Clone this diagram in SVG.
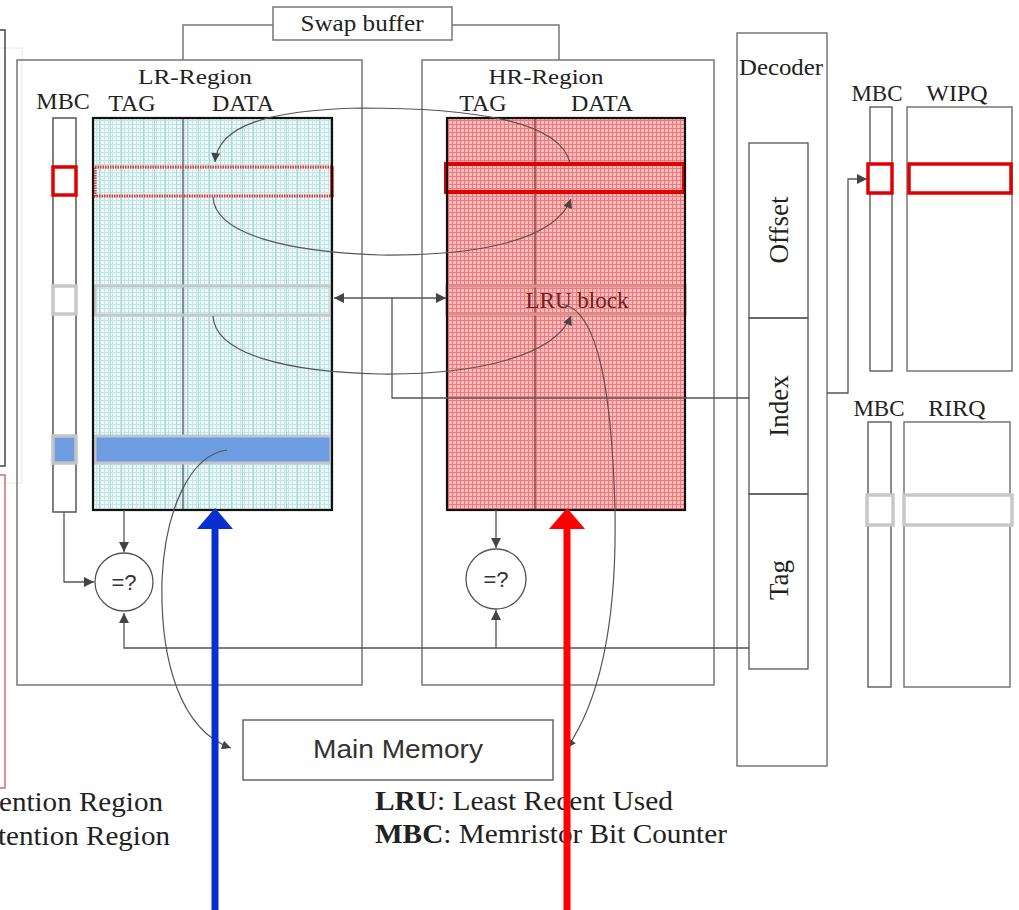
<svg xmlns="http://www.w3.org/2000/svg" width="1019" height="910" viewBox="0 0 1019 910">
<defs>
<pattern id="pLR" width="4" height="4" patternUnits="userSpaceOnUse">
<rect width="4" height="4" fill="#ecf8f8"/>
<path d="M0 0.5H4M0.5 0V4" stroke="#c3e5e5" stroke-width="1"/>
</pattern>
<pattern id="pLRv" width="11" height="4" patternUnits="userSpaceOnUse">
<path d="M0.5 0V4" stroke="#a9d6d6" stroke-width="1"/>
</pattern>
<pattern id="pHR" width="4" height="4" patternUnits="userSpaceOnUse">
<rect width="4" height="4" fill="#fabcbc"/>
<path d="M0 0.5H4M0.5 0V4" stroke="#f07878" stroke-width="1"/>
</pattern>
<marker id="ah" viewBox="0 0 10 10" refX="10" refY="5" markerWidth="12" markerHeight="10" markerUnits="userSpaceOnUse" orient="auto-start-reverse">
<path d="M0 0L10 5L0 10z" fill="#444"/>
</marker>
<marker id="ahs" viewBox="0 0 10 10" refX="10" refY="5" markerWidth="11" markerHeight="9" markerUnits="userSpaceOnUse" orient="auto">
<path d="M0 0L10 5L0 10z" fill="#444"/>
</marker>
</defs>
<style>
.t{font-family:"Liberation Serif","Times New Roman",serif;fill:#222}
.s{font-family:"Liberation Sans",Arial,sans-serif;fill:#333}
.box{fill:none;stroke:#777;stroke-width:1.5}
.thin{fill:#fff;stroke:#555;stroke-width:1.5}
.c{fill:none;stroke:#555;stroke-width:1.3}
.cv{fill:none;stroke:#555;stroke-width:1.2}
</style>
<rect width="1019" height="910" fill="#fff"/>

<g id="left-edge">
<path d="M0 48H22V483H0" fill="none" stroke="#e2ebf2" stroke-width="1.2"/>
<path d="M0 30H5V466H0" fill="none" stroke="#444" stroke-width="1.5"/>
<path d="M0 475H5V788H0" fill="none" stroke="#e06a6a" stroke-width="1.5"/>
<text class="t" x="-1" y="811" font-size="27" textLength="164" lengthAdjust="spacingAndGlyphs">ention Region</text>
<text class="t" x="-2" y="845" font-size="27" textLength="172" lengthAdjust="spacingAndGlyphs">tention Region</text>
</g>

<g id="swap-buffer">
<rect x="273" y="7" width="179" height="33" class="box"/>
<text class="t" x="362" y="31" font-size="23" text-anchor="middle" textLength="123" lengthAdjust="spacingAndGlyphs">Swap buffer</text>
</g>

<g id="lr-region">
<rect x="17" y="60" width="345" height="625" class="box"/>
<text class="t" x="195" y="84" font-size="21" text-anchor="middle" textLength="114" lengthAdjust="spacingAndGlyphs">LR-Region</text>
<text class="t" x="63" y="109" font-size="24" text-anchor="middle">MBC</text>
<text class="t" x="132" y="111" font-size="24" text-anchor="middle">TAG</text>
<text class="t" x="243" y="111" font-size="24" text-anchor="middle">DATA</text>
<rect x="53" y="118" width="23" height="394" class="thin"/>
<rect x="93" y="118" width="239" height="392" fill="url(#pLR)"/>
<rect x="93" y="118" width="239" height="392" fill="url(#pLRv)"/>
<line x1="183" y1="118" x2="183" y2="510" stroke="#667" stroke-width="1.5"/>
<rect x="95" y="167" width="237" height="29" fill="none" stroke="#e43a3a" stroke-width="3" stroke-dasharray="1.5 1"/>
<line x1="332" y1="166" x2="332" y2="197" stroke="#e00" stroke-width="3"/>
<rect x="53" y="167" width="23" height="28" fill="#fff" stroke="#e00000" stroke-width="3.5"/>
<rect x="95" y="286" width="236" height="29" fill="none" stroke="#c4c8c8" stroke-width="3"/>
<rect x="53" y="286" width="23" height="28" fill="#fff" stroke="#c8c8c8" stroke-width="3.5"/>
<rect x="95" y="436" width="236" height="27" fill="#6d9de0" stroke="#c0c6cc" stroke-width="3"/>
<rect x="53" y="436" width="23" height="27" fill="#6d9de0" stroke="#c4c4c4" stroke-width="3.5"/>
<rect x="93" y="118" width="239" height="392" fill="none" stroke="#111" stroke-width="2.2"/>
<circle cx="124" cy="582" r="29" fill="#fff" stroke="#555" stroke-width="1.3"/>
<text class="s" x="124" y="590" font-size="22" text-anchor="middle">=?</text>
</g>

<g id="hr-region">
<rect x="422" y="60" width="292" height="625" class="box"/>
<text class="t" x="546" y="84" font-size="21" text-anchor="middle" textLength="115" lengthAdjust="spacingAndGlyphs">HR-Region</text>
<text class="t" x="483" y="111" font-size="24" text-anchor="middle">TAG</text>
<text class="t" x="602" y="111" font-size="24" text-anchor="middle">DATA</text>
<rect x="447" y="118" width="238" height="392" fill="url(#pHR)"/>
<line x1="535" y1="118" x2="535" y2="510" stroke="#8a4848" stroke-width="1.5"/>
<rect x="447" y="286" width="238" height="28" fill="none" stroke="#d89090" stroke-width="3"/>
<text x="577" y="308" font-family="Liberation Serif,serif" font-size="23" fill="#6a2424" text-anchor="middle">LRU block</text>
<rect x="446" y="164" width="238" height="28" fill="none" stroke="#e00000" stroke-width="4"/>
<rect x="447" y="118" width="238" height="392" fill="none" stroke="#111" stroke-width="2.2"/>
<circle cx="496" cy="579" r="30" fill="#fff" stroke="#555" stroke-width="1.3"/>
<text class="s" x="496" y="587" font-size="22" text-anchor="middle">=?</text>
</g>

<g id="decoder">
<rect x="737" y="33" width="90" height="733" class="box"/>
<text class="t" x="781" y="75" font-size="23" text-anchor="middle" textLength="84" lengthAdjust="spacingAndGlyphs">Decoder</text>
<rect x="749" y="143" width="59" height="175" fill="none" stroke="#555" stroke-width="1.3"/>
<rect x="749" y="318" width="59" height="176" fill="none" stroke="#555" stroke-width="1.3"/>
<rect x="749" y="494" width="59" height="175" fill="none" stroke="#555" stroke-width="1.3"/>
<text class="t" x="0" y="0" font-size="27" text-anchor="middle" transform="translate(788 230) rotate(-90)">Offset</text>
<text class="t" x="0" y="0" font-size="27" text-anchor="middle" transform="translate(788 406) rotate(-90)">Index</text>
<text class="t" x="0" y="0" font-size="27" text-anchor="middle" transform="translate(788 580) rotate(-90)">Tag</text>
</g>

<g id="wipq">
<text class="t" x="877" y="101" font-size="23" text-anchor="middle">MBC</text>
<text class="t" x="957" y="101" font-size="24" text-anchor="middle">WIPQ</text>
<rect x="870" y="107" width="22" height="264" fill="none" stroke="#666" stroke-width="1.5"/>
<rect x="907" y="107" width="105" height="264" fill="none" stroke="#777" stroke-width="1.5"/>
<rect x="868" y="164" width="24" height="29" fill="#fff" stroke="#e00000" stroke-width="3.5"/>
<rect x="909" y="164" width="102" height="29" fill="#fff" stroke="#e00000" stroke-width="3.5"/>
</g>

<g id="rirq">
<text class="t" x="879" y="416" font-size="23" text-anchor="middle">MBC</text>
<text class="t" x="957" y="416" font-size="24" text-anchor="middle">RIRQ</text>
<rect x="868" y="422" width="23" height="265" fill="none" stroke="#666" stroke-width="1.5"/>
<rect x="904" y="422" width="106" height="265" fill="none" stroke="#777" stroke-width="1.5"/>
<rect x="867" y="495" width="26" height="30" fill="#fff" stroke="#c8c8c8" stroke-width="3.5"/>
<rect x="904" y="495" width="108" height="30" fill="#fff" stroke="#c8c8c8" stroke-width="3.5"/>
</g>

<g id="main-memory">
<rect x="243" y="720" width="310" height="60" fill="#fff" stroke="#666" stroke-width="1.5"/>
<text class="s" x="398" y="758" font-size="25" text-anchor="middle" textLength="170" lengthAdjust="spacingAndGlyphs">Main Memory</text>
</g>

<g id="legend">
<text class="t" x="375" y="810" font-size="27" textLength="298" lengthAdjust="spacingAndGlyphs"><tspan font-weight="bold">LRU</tspan>: Least Recent Used</text>
<text class="t" x="375" y="843" font-size="27" textLength="352" lengthAdjust="spacingAndGlyphs"><tspan font-weight="bold">MBC</tspan>: Memristor Bit Counter</text>
</g>

<g id="connectors">
<path d="M273 25H183V60" class="box"/>
<path d="M452 25H559V60" class="box"/>
<path d="M334 298H446" class="c" marker-start="url(#ah)" marker-end="url(#ah)"/>
<path d="M392 298V398H749" class="c"/>
<path d="M749 648H124V613" class="c" marker-end="url(#ah)"/>
<path d="M496 648V610" class="c" marker-end="url(#ah)"/>
<path d="M124 510V552" class="c" marker-end="url(#ah)"/>
<path d="M64 512V582H94" class="c" marker-end="url(#ah)"/>
<path d="M496 510V548" class="c" marker-end="url(#ah)"/>
<path d="M827 393H848V179H867" class="c" marker-end="url(#ah)"/>
<path d="M570 163C560 120 470 108 360 108C270 110 218 125 215 162" class="cv" marker-end="url(#ahs)"/>
<path d="M213 197C215 235 290 252 380 255C480 256 555 240 571 199" class="cv" marker-end="url(#ahs)"/>
<path d="M213 316C215 355 290 372 380 374C480 375 555 355 571 316" class="cv" marker-end="url(#ahs)"/>
<path d="M562 304C600 310 612 400 615 510C617 620 600 700 567 748" class="cv" marker-end="url(#ahs)"/>
<path d="M227 450C190 455 165 510 162 580C160 660 180 730 231 748" class="cv" marker-end="url(#ahs)"/>
<path d="M215 910V528" stroke="#0a2fd0" stroke-width="7" fill="none"/>
<path d="M197 529L215 508L233 529z" fill="#0a2fd0"/>
<path d="M567 910V528" stroke="#ff0000" stroke-width="7" fill="none"/>
<path d="M549 529L567 508L585 529z" fill="#ff0000"/>
</g>
</svg>
